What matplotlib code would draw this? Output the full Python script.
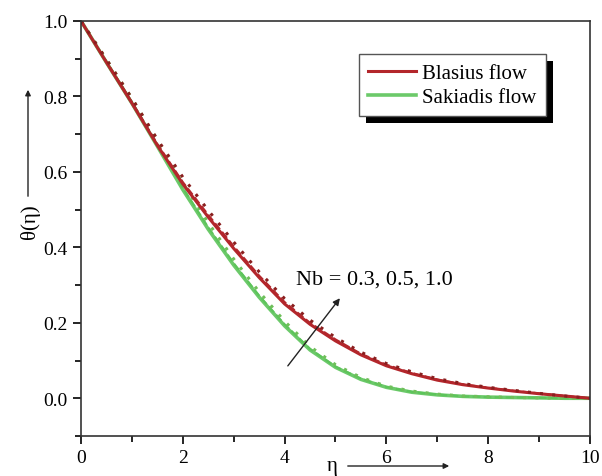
import matplotlib.pyplot as plt
from matplotlib.patches import Rectangle
from matplotlib.transforms import IdentityTransform
from matplotlib.ticker import MultipleLocator

plt.rcParams['font.family'] = ['Liberation Serif', 'DejaVu Serif']

eta = [0.0, 0.5, 1.0, 1.5, 2.0, 2.5, 3.0, 3.5, 4.0, 4.5, 5.0,
       5.5, 6.0, 6.5, 7.0, 7.5, 8.0, 8.5, 9.0, 9.5, 10.0]

# Blasius flow, Nb = 0.3, 0.5, 1.0
blasius_03 = [1.0, 0.89, 0.782, 0.670, 0.568, 0.480, 0.397, 0.320, 0.250, 0.196, 0.152,
              0.115, 0.086, 0.065, 0.048, 0.036, 0.027, 0.019, 0.012, 0.006, 0.0]
blasius_05 = [1.0, 0.892, 0.785, 0.674, 0.573, 0.486, 0.403, 0.325, 0.255, 0.200, 0.156,
              0.118, 0.089, 0.067, 0.050, 0.037, 0.028, 0.020, 0.013, 0.006, 0.0]
blasius_10 = [1.0, 0.898, 0.795, 0.686, 0.586, 0.498, 0.414, 0.335, 0.264, 0.207, 0.161,
              0.122, 0.092, 0.070, 0.052, 0.039, 0.029, 0.021, 0.013, 0.006, 0.0]

# Sakiadis flow, Nb = 0.3, 0.5, 1.0
sakiadis_03 = [1.0, 0.89, 0.782, 0.668, 0.553, 0.448, 0.353, 0.268, 0.192, 0.128, 0.082,
               0.050, 0.029, 0.016, 0.009, 0.005, 0.003, 0.002, 0.001, 0.0, 0.0]
sakiadis_05 = [1.0, 0.892, 0.785, 0.672, 0.558, 0.453, 0.358, 0.272, 0.196, 0.131, 0.084,
               0.052, 0.030, 0.017, 0.010, 0.005, 0.003, 0.002, 0.001, 0.0, 0.0]
sakiadis_10 = [1.0, 0.898, 0.795, 0.683, 0.570, 0.465, 0.369, 0.282, 0.204, 0.137, 0.089,
               0.055, 0.032, 0.019, 0.011, 0.006, 0.004, 0.002, 0.001, 0.0, 0.0]

red = '#b3262b'
green = '#5cc45a'

fig = plt.figure(figsize=(6.02, 4.77), dpi=100)
ax = fig.add_axes([0.1346, 0.0839, 0.8454, 0.87])

ax.plot(eta, sakiadis_03, color=green, lw=2.6, alpha=0.9, label='Sakiadis flow')
ax.plot(eta, sakiadis_05, color=green, lw=1.5, ls='--')
ax.plot(eta, sakiadis_10, color='#6fbf5a', lw=2.2, ls=(0, (1, 3)))
ax.plot(eta, blasius_03, color=red, lw=2.2, label='Blasius flow')
ax.plot(eta, blasius_05, color=red, lw=1.5, ls='--')
ax.plot(eta, blasius_10, color='#8a1f1f', lw=2.2, ls=(0, (1, 3)))

ax.set_xlim(0, 10)
ax.set_ylim(-0.1, 1.0)
ax.xaxis.set_major_locator(MultipleLocator(2))
ax.xaxis.set_minor_locator(MultipleLocator(1))
ax.yaxis.set_minor_locator(MultipleLocator(0.1))
ax.set_yticks([0.0, 0.2, 0.4, 0.6, 0.8, 1.0])
ax.tick_params(which='major', direction='out', length=6, width=1.2, labelsize=14)
ax.tick_params(which='minor', direction='out', length=4, width=1.2)
for s in ax.spines.values():
    s.set_linewidth(1.2)
    s.set_color('#333333')

ax.annotate('', xy=(5.12, 0.271), xytext=(4.03, 0.080),
            arrowprops=dict(arrowstyle='-|>', color='#222222', lw=1, mutation_scale=10))
ax.text(4.22, 0.316, 'Nb = 0.3, 0.5, 1.0', fontsize=16, va='center', ha='left')

handles, labels = ax.get_legend_handles_labels()
leg = ax.legend(handles[::-1], labels[::-1], loc='upper left', bbox_to_anchor=(0.546, 0.92),
                fontsize=15, frameon=True, fancybox=False, framealpha=1, handlelength=2.3,
                handletextpad=0.3, labelspacing=0.2, borderpad=0.45, borderaxespad=0)
leg.get_frame().set_edgecolor('#555555')
leg.get_frame().set_linewidth(1.0)
leg.set_zorder(6)

# axis labels with arrows
fig.text(30 / 602, 1 - 222 / 477, 'θ(η)', rotation=90, ha='center', va='center', fontsize=15)
ax.annotate('', xy=(28 / 602, 1 - 88 / 477), xytext=(28 / 602, 1 - 200 / 477),
            xycoords='figure fraction', textcoords='figure fraction',
            arrowprops=dict(arrowstyle='-|>', color='#222222', lw=1, mutation_scale=8))
fig.text(332 / 602, 1 - 467 / 477, 'η', ha='center', va='center', fontsize=15)
ax.annotate('', xy=(452 / 602, 1 - 467 / 477), xytext=(345 / 602, 1 - 467 / 477),
            xycoords='figure fraction', textcoords='figure fraction',
            arrowprops=dict(arrowstyle='-|>', color='#222222', lw=1, mutation_scale=8))

# black drop shadow behind the legend box
fig.canvas.draw()
bb = leg.get_window_extent()
shadow = Rectangle((bb.x0 + 7, bb.y0 - 7), bb.width, bb.height, transform=IdentityTransform(),
                   facecolor='black', edgecolor='none', zorder=5.5, clip_on=False)
ax.add_artist(shadow)

fig.savefig('out.png', dpi=100)
